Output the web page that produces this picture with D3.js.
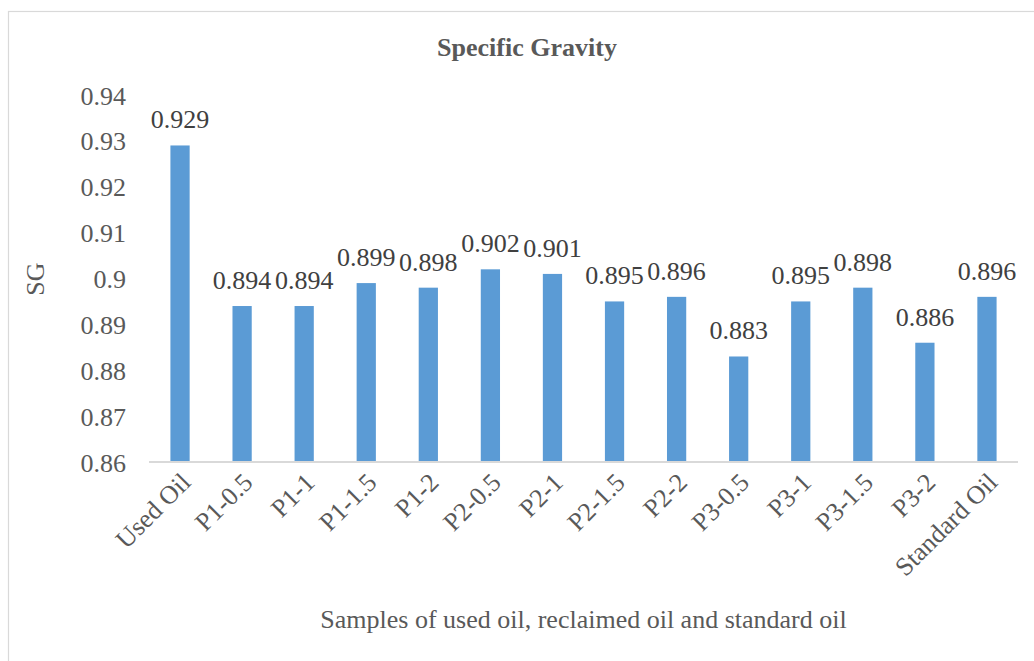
<!DOCTYPE html>
<html>
<head>
<meta charset="utf-8">
<script src="https://cdn.jsdelivr.net/npm/d3@7"></script>
<style>
  body { margin: 0; background: #fff; }
  svg text { font-family: "Liberation Serif", "Times New Roman", serif; }
</style>
</head>
<body>
<div id="chart"></div>
<script>
const categories = ['Used Oil', 'P1-0.5', 'P1-1', 'P1-1.5', 'P1-2', 'P2-0.5', 'P2-1',
    'P2-1.5', 'P2-2', 'P3-0.5', 'P3-1', 'P3-1.5', 'P3-2', 'Standard Oil'];
const sgValues = [0.929, 0.894, 0.894, 0.899, 0.898, 0.902, 0.901,
    0.895, 0.896, 0.883, 0.895, 0.898, 0.886, 0.896];
const yTicks = [0.86, 0.87, 0.88, 0.89, 0.9, 0.91, 0.92, 0.93, 0.94];

const width = 1034, height = 661;
const plot = { left: 149, right: 1018, top: 95, bottom: 462 };
const serif = '"Liberation Serif", "Times New Roman", serif';

const svg = d3.select('#chart').append('svg')
    .attr('width', width)
    .attr('height', height);

// chart border (runs off the bottom/right of the picture)
svg.append('rect')
    .attr('x', 8.5).attr('y', 11.5)
    .attr('width', 1040).attr('height', 670)
    .attr('fill', 'none')
    .attr('stroke', '#d9d9d9')
    .attr('stroke-width', 1.2);

const x = d3.scaleBand()
    .domain(categories)
    .range([plot.left, plot.right])
    .paddingInner(0.69)
    .paddingOuter(0.345);

const y = d3.scaleLinear()
    .domain([0.86, 0.94])
    .range([plot.bottom, plot.top]);

// bars
svg.append('g').selectAll('rect')
    .data(sgValues)
    .join('rect')
    .attr('x', (d, i) => x(categories[i]))
    .attr('y', d => y(d))
    .attr('width', x.bandwidth())
    .attr('height', d => y(0.86) - y(d))
    .attr('fill', '#5b9bd5');

// data labels
svg.append('g').selectAll('text')
    .data(sgValues)
    .join('text')
    .attr('x', (d, i) => x(categories[i]) + x.bandwidth() / 2)
    .attr('y', d => y(d) - 17)
    .attr('text-anchor', 'middle')
    .attr('font-size', 26)
    .attr('fill', '#404040')
    .text(d => d3.format('.3f')(d));

// y axis (labels only)
const yAxis = svg.append('g')
    .attr('transform', `translate(${plot.left},0)`)
    .call(d3.axisLeft(y).tickValues(yTicks).tickSize(0).tickPadding(23)
        .tickFormat(d => String(+d.toFixed(2))));
yAxis.attr('font-family', serif);
yAxis.select('.domain').remove();
yAxis.selectAll('text')
    .attr('font-size', 26)
    .attr('fill', '#595959')
    .attr('dy', '0.35em');

// x axis
const xAxis = svg.append('g')
    .attr('transform', `translate(0,${plot.bottom})`)
    .call(d3.axisBottom(x).tickSize(0).tickPadding(0));
xAxis.attr('font-family', serif);
xAxis.select('.domain')
    .attr('stroke', '#d9d9d9')
    .attr('stroke-width', 2)
    .attr('d', `M${plot.left},0H${plot.right}`);
xAxis.selectAll('text')
    .attr('font-size', 26)
    .attr('fill', '#595959')
    .attr('text-anchor', 'end')
    .attr('dy', 0)
    .attr('transform', 'translate(12,22) rotate(-45)');

// title
svg.append('text')
    .attr('x', 527)
    .attr('y', 56)
    .attr('text-anchor', 'middle')
    .attr('font-size', 26)
    .attr('font-weight', 'bold')
    .attr('fill', '#595959')
    .text('Specific Gravity');

// axis titles
svg.append('text')
    .attr('transform', 'translate(44,279) rotate(-90)')
    .attr('text-anchor', 'middle')
    .attr('font-size', 26)
    .attr('fill', '#595959')
    .text('SG');

svg.append('text')
    .attr('x', (plot.left + plot.right) / 2)
    .attr('y', 628)
    .attr('text-anchor', 'middle')
    .attr('font-size', 26)
    .attr('fill', '#595959')
    .text('Samples of used oil, reclaimed oil and standard oil');
</script>
</body>
</html>
